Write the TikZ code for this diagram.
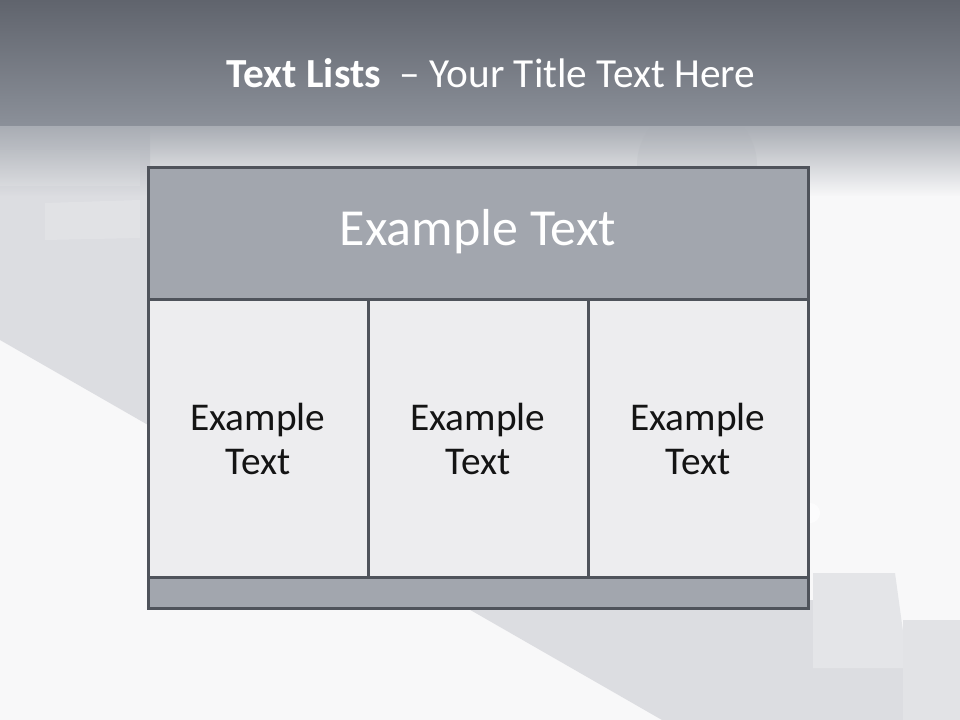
\documentclass[tikz,border=0pt]{standalone}
\usepackage{fontspec}
\setmainfont{Carlito}
\usetikzlibrary{fadings}
\definecolor{bgwhite}{HTML}{F8F8F9}
\definecolor{topA}{HTML}{60646D}
\definecolor{topB}{HTML}{8B9099}
\definecolor{topfade}{HTML}{A9ADB4}
\definecolor{band}{HTML}{DCDDE1}
\definecolor{stepA}{HTML}{E4E5E8}
\definecolor{stepB}{HTML}{E2E3E6}
\definecolor{bordercol}{HTML}{4F535B}
\definecolor{hdrfill}{HTML}{A2A6AE}
\definecolor{cellfill}{HTML}{EDEDEF}
\definecolor{celltext}{HTML}{141414}
\tikzset{
  tablebox/.style={draw=bordercol, line width=2.25pt, inner sep=0pt, outer sep=0pt},
  hdrbox/.style={tablebox, fill=hdrfill, minimum width=495pt, minimum height=99pt},
  cellbox/.style={tablebox, fill=cellfill, minimum width=165pt, minimum height=207.75pt},
  footbox/.style={tablebox, fill=hdrfill, minimum width=495pt, minimum height=23.25pt},
  titletext/.style={text=white, font=\fontsize{31}{37}\selectfont, inner sep=0pt},
  hdrtext/.style={text=white, font=\fontsize{39}{46}\selectfont, inner sep=0pt},
  celltxt/.style={text=celltext, align=center, font=\fontsize{29.5}{33}\selectfont, inner sep=0pt}
}
\begin{document}
\begin{tikzpicture}[x=0.75pt,y=-0.75pt]
\useasboundingbox (0,0) rectangle (960,720);
% background
\fill[bgwhite] (0,0) rectangle (960,720);
\fill[band] (0,126) -- (150,126) -- (150,600) -- (813,600) -- (813,668) -- (903,668) -- (903,720) -- (662,720) -- (0,340) -- cycle;
\fill[stepA, opacity=0.7] (0,150) -- (140,150) -- (140,186) -- (0,186) -- cycle;
\fill[stepA, opacity=0.7] (45,203) -- (140,200) -- (140,238) -- (45,240) -- cycle;
\fill[stepA] (813,573) -- (895,573) -- (908,668) -- (813,668) -- cycle;
\fill[stepB] (903,620) -- (960,620) -- (960,720) -- (903,720) -- cycle;
\fill[topfade, path fading=south] (0,126) rectangle (960,196);
\fill[topfade, opacity=0.15] (697,165) circle[radius=60];
\fill[white, opacity=0.7] (810,513) circle[radius=10];
\shade[top color=topA, bottom color=topB] (0,0) rectangle (960,126);
% title
\node[titletext, anchor=base] (title) at (491,88) {\textbf{Text Lists}\ \ – Your Title Text Here};
% table
\node[hdrbox] (hdr) at (478,234) {};
\node[cellbox] (c1) at (258,438.5) {};
\node[cellbox] (c2) at (478,438.5) {};
\node[cellbox] (c3) at (698,438.5) {};
\node[footbox] (foot) at (478,592.5) {};
\node[hdrtext, anchor=base] (hdrt) at (hdr.center |- 0,246) {Example Text};
\node[celltxt] (t1) at (c1.center) {Example\\Text};
\node[celltxt] (t2) at (c2.center) {Example\\Text};
\node[celltxt] (t3) at (c3.center) {Example\\Text};
\end{tikzpicture}
\end{document}
